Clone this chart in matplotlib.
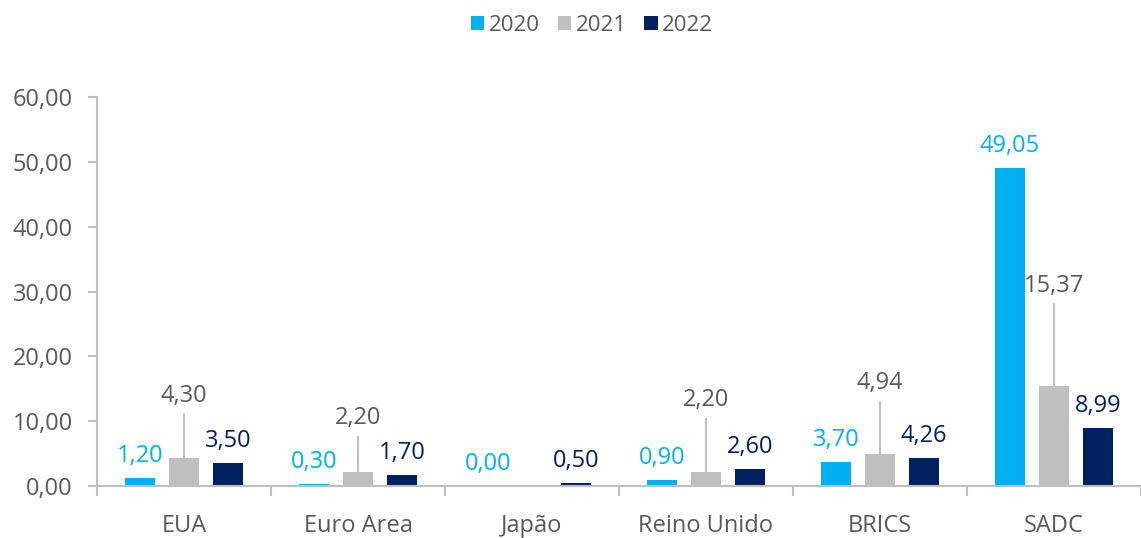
import matplotlib.pyplot as plt
import numpy as np

plt.rcParams['font.family'] = ['Open Sans', 'DejaVu Sans']

categories = ['EUA', 'Euro Area', 'Japão', 'Reino Unido', 'BRICS', 'SADC']
years = ['2020', '2021', '2022']
v2020 = [1.20, 0.30, 0.00, 0.90, 3.70, 49.05]
v2021 = [4.30, 2.20, 0.10, 2.20, 4.94, 15.37]
v2022 = [3.50, 1.70, 0.50, 2.60, 4.26, 8.99]
labels_2021 = ['4,30', '2,20', '', '2,20', '4,94', '15,37']
# where the 2021 labels sit (bottom of text, data units), moved up with leader lines
label_y_2021 = [12.3, 8.9, None, 11.7, 14.3, 29.3]

colors = ['#00B0F0', '#BFBFBF', '#002060']
text_colors = ['#00B0F0', '#595959', '#002060']
grey = '#595959'
axis_col = '#BFBFBF'
fs = 17

fig = plt.figure(figsize=(11.41, 5.38), dpi=100)
ax = fig.add_axes([97 / 1141, 1 - 486 / 538, 1 - 97 / 1141, (486 - 97) / 538])

x = np.arange(len(categories))
width = 0.167
step = 0.253

def fmt(v):
    return f'{v:.2f}'.replace('.', ',')

series = [v2020, v2021, v2022]
for i, vals in enumerate(series):
    pos = x + (i - 1) * step
    ax.bar(pos, vals, width, color=colors[i], label=years[i], zorder=2)
    if i == 1:
        for p, v, lab, ly in zip(pos, vals, labels_2021, label_y_2021):
            if ly is None:
                continue
            ax.plot([p, p], [v, ly - 1.3], color=axis_col, lw=1.5, zorder=1)
            ax.text(p, ly - 0.3, lab, ha='center', va='bottom', fontsize=fs,
                    color=text_colors[i])
    else:
        for p, v in zip(pos, vals):
            ax.annotate(fmt(v), (p, v), xytext=(0, 10), textcoords='offset pixels',
                        ha='center', va='bottom', fontsize=fs, color=text_colors[i])

ax.set_xlim(-0.5, len(categories) - 0.5)
ax.set_ylim(0, 60)
ax.set_yticks(np.arange(0, 61, 10))
ax.set_yticklabels([fmt(t) for t in np.arange(0, 61, 10)])
ax.set_xticks(x)
ax.set_xticklabels(categories)
ax.set_xticks(np.arange(-0.5, len(categories), 1), minor=True)
ax.tick_params(axis='x', which='major', length=0, pad=20, labelsize=fs, labelcolor=grey)
ax.tick_params(axis='x', which='minor', length=7, color=axis_col, width=1.5)
ax.tick_params(axis='y', length=6.5, color=axis_col, width=1.5, labelsize=fs,
               labelcolor=grey, pad=11)

for s in ['top', 'right']:
    ax.spines[s].set_visible(False)
for s in ['left', 'bottom']:
    ax.spines[s].set_color(axis_col)
    ax.spines[s].set_linewidth(1.5)

fig.legend(loc='upper center', bbox_to_anchor=(592 / 1141, 1.01), ncol=3, frameon=False,
           fontsize=16, labelcolor=grey, handlelength=0.6, handleheight=0.6,
           handletextpad=0.2, columnspacing=0.8)

fig.savefig('out.png', dpi=100)
